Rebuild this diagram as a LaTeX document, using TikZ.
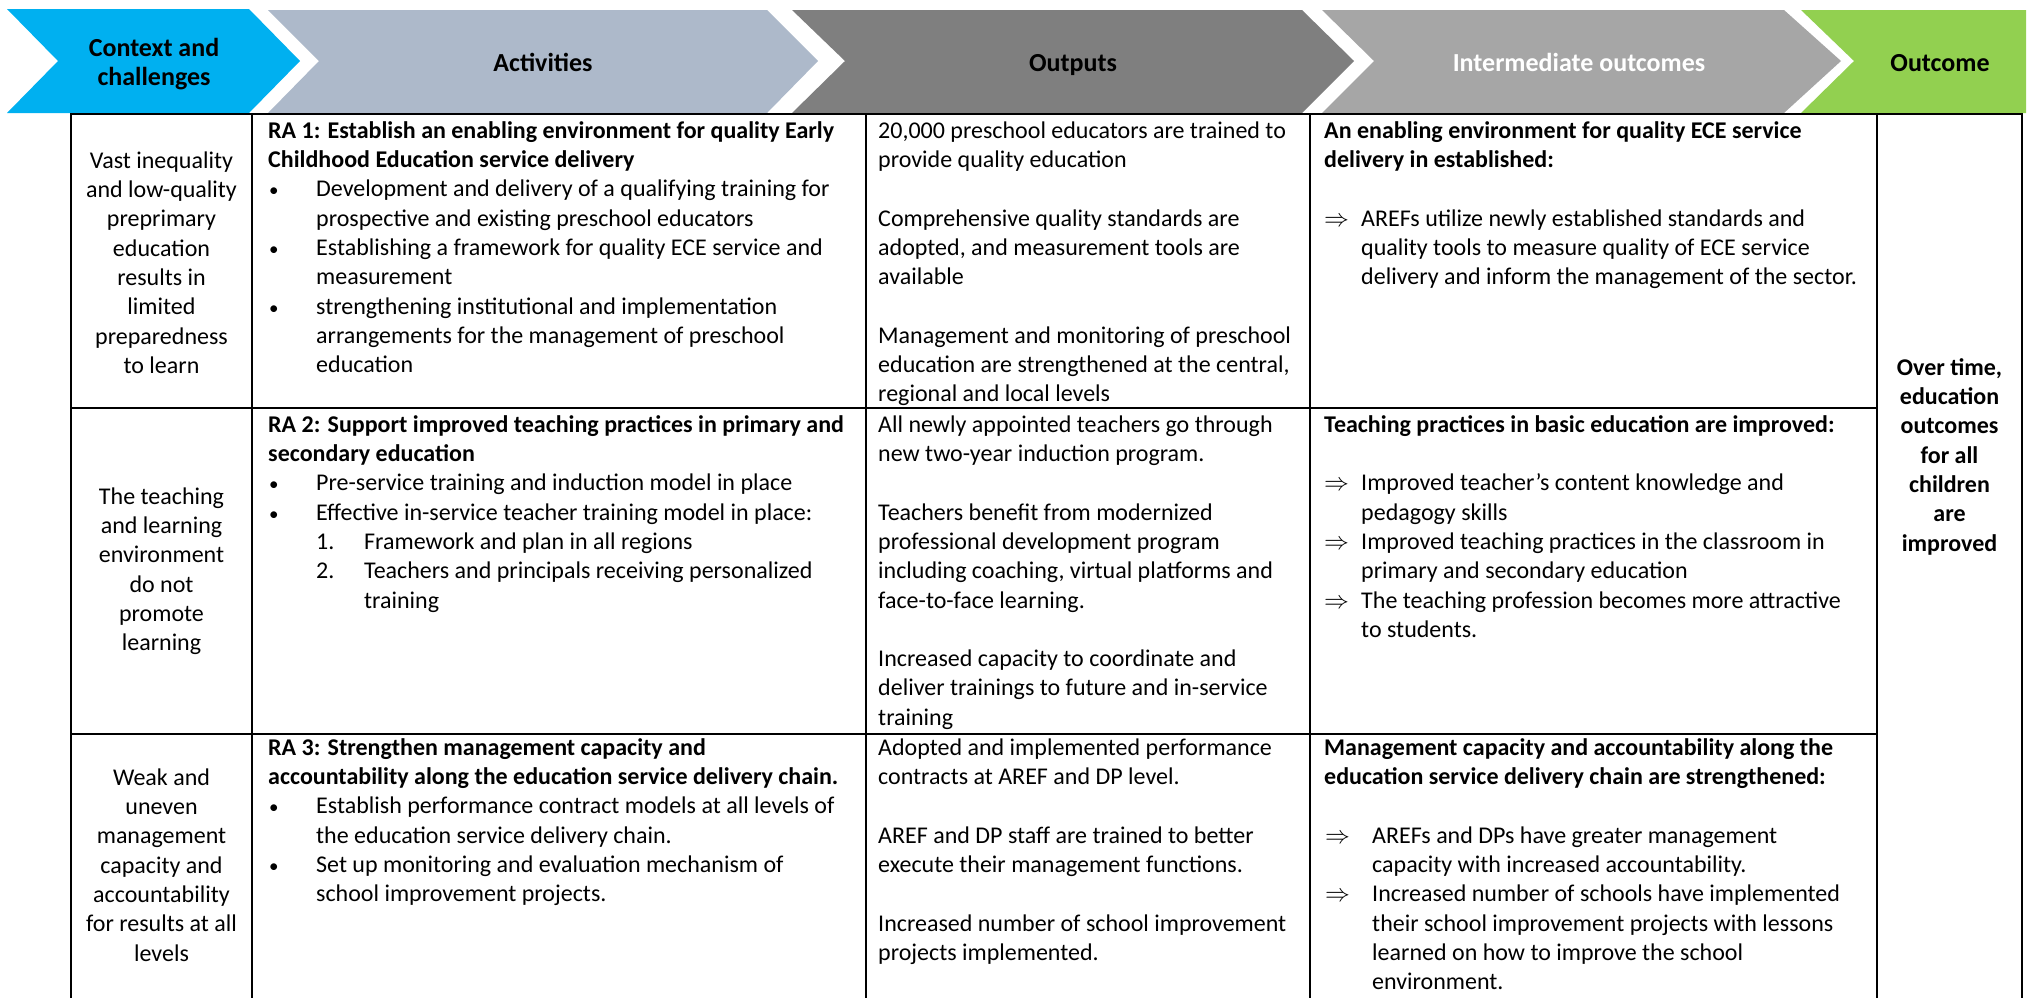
\documentclass[tikz,border=0pt]{standalone}
\usepackage{fontspec}
\setmainfont{Carlito}
\definecolor{cblue}{HTML}{00B0F0}
\definecolor{cact}{HTML}{ADB9CA}
\definecolor{cout}{HTML}{7F7F7F}
\definecolor{cint}{HTML}{A6A6A6}
\definecolor{cgreen}{HTML}{92D050}
\newcommand\bodyfont{\fontsize{24}{29.3}\selectfont}
\newcommand\headfont{\fontsize{26}{29}\selectfont\bfseries}
\newcommand\bulx{\makebox[48pt][l]{\hspace*{1pt}{\fontsize{19}{19}\selectfont •}}}
\newcommand\indx{\hspace*{48pt}}
\newcommand\arrx{\makebox[37pt][l]{$\Rightarrow$}}
\newcommand\indy{\hspace*{37pt}}
\newcommand\arrz{\makebox[48pt][l]{\hspace*{1pt}$\Rightarrow$}}
\newcommand\blankline{\\[29.3pt]}
\begin{document}
\begin{tikzpicture}[x=1pt,y=-1pt,
  hd/.style={font=\headfont, inner sep=0pt, anchor=base},
  txt/.style={font=\bodyfont, inner sep=0pt, anchor=north west, align=left},
  ctr/.style={font=\bodyfont, inner sep=0pt, anchor=north, align=center},
  vgrid/.style={line width=2pt, draw=black, line cap=rect},
  hgrid/.style={line width=2.8pt, draw=black, line cap=rect}]
\useasboundingbox (0,0) rectangle (2028,997);
% header chevrons
\fill[cblue]  (7,9) -- (249,9) -- (300,61) -- (249,113) -- (7,113) -- (58,61) -- cycle;
\fill[cact]   (268,10) -- (767,10) -- (818,61) -- (767,113) -- (268,113) -- (319,61) -- cycle;
\fill[cout]   (792,10) -- (1302,10) -- (1354,61) -- (1302,113) -- (792,113) -- (845,61) -- cycle;
\fill[cint]   (1322,10) -- (1784,10) -- (1841,61) -- (1784,113) -- (1322,113) -- (1374,61) -- cycle;
\fill[cgreen] (1801,10) -- (2026,10) -- (2026,113) -- (1801,113) -- (1854,61) -- cycle;
\node[font=\headfont, inner sep=0pt, anchor=north, align=center] (hctx) at (154,35.7) {\strut Context and\\challenges};
\node[hd] (hact) at (543,71) {Activities};
\node[hd] (hout) at (1073,71) {Outputs};
\node[hd, text=white] (hint) at (1579,71) {Intermediate outcomes};
\node[hd] (hres) at (1940,71) {Outcome};
% table
\foreach \xx in {71,252,866,1310,1877,2022} \draw[vgrid] (\xx,114) -- (\xx,997);
\draw[hgrid] (71,114) -- (2022,114);
\draw[hgrid] (71,408) -- (1877,408);
\draw[hgrid] (71,734) -- (1877,734);
% column 1
\node[ctr] (c1) at (161.5,147.5) {\strut Vast inequality\\and low-quality\\preprimary\\education\\results in\\limited\\preparedness\\to learn};
\node[ctr] (c2) at (161.5,483.5) {\strut The teaching\\and learning\\environment\\do not\\promote\\learning};
\node[ctr] (c3) at (161.5,764.5) {\strut Weak and\\uneven\\management\\capacity and\\accountability\\for results at all\\levels};
% column 2
\node[txt] (a1) at (268,117.5) {\textbf{\strut RA 1: Establish an enabling environment for quality Early}\\
\textbf{Childhood Education service delivery}\\
\bulx Development and delivery of a qualifying training for\\
\indx prospective and existing preschool educators\\
\bulx Establishing a framework for quality ECE service and\\
\indx measurement\\
\bulx strengthening institutional and implementation\\
\indx arrangements for the management of preschool\\
\indx education};
\node[txt] (a2) at (268,411.5) {\textbf{\strut RA 2: Support improved teaching practices in primary and}\\
\textbf{secondary education}\\
\bulx Pre-service training and induction model in place\\
\bulx Effective in-service teacher training model in place:\\
\indx\makebox[48pt][l]{1.}Framework and plan in all regions\\
\indx\makebox[48pt][l]{2.}Teachers and principals receiving personalized\\
\indx\indx training};
\node[txt] (a3) at (268,734.5) {\textbf{\strut RA 3: Strengthen management capacity and}\\
\textbf{accountability along the education service delivery chain.}\\
\bulx Establish performance contract models at all levels of\\
\indx the education service delivery chain.\\
\bulx Set up monitoring and evaluation mechanism of\\
\indx school improvement projects.};
% column 3
\node[txt] (o1) at (878,117.5) {\strut 20,000 preschool educators are trained to\\
provide quality education\blankline
Comprehensive quality standards are\\
adopted, and measurement tools are\\
available\blankline
Management and monitoring of preschool\\
education are strengthened at the central,\\
regional and local levels};
\node[txt] (o2) at (878,411.5) {\strut All newly appointed teachers go through\\
new two-year induction program.\blankline
Teachers benefit from modernized\\
professional development program\\
including coaching, virtual platforms and\\
face-to-face learning.\blankline
Increased capacity to coordinate and\\
deliver trainings to future and in-service\\
training};
\node[txt] (o3) at (878,734.5) {\strut Adopted and implemented performance\\
contracts at AREF and DP level.\blankline
AREF and DP staff are trained to better\\
execute their management functions.\blankline
Increased number of school improvement\\
projects implemented.};
% column 4
\node[txt] (i1) at (1324,117.5) {\textbf{\strut An enabling environment for quality ECE service}\\
\textbf{delivery in established:}\blankline
\arrx AREFs utilize newly established standards and\\
\indy quality tools to measure quality of ECE service\\
\indy delivery and inform the management of the sector.};
\node[txt] (i2) at (1324,411.5) {\textbf{\strut Teaching practices in basic education are improved:}\blankline
\arrx Improved teacher’s content knowledge and\\
\indy pedagogy skills\\
\arrx Improved teaching practices in the classroom in\\
\indy primary and secondary education\\
\arrx The teaching profession becomes more attractive\\
\indy to students.};
\node[txt] (i3) at (1324,734.5) {\textbf{\strut Management capacity and accountability along the}\\
\textbf{education service delivery chain are strengthened:}\blankline
\arrz AREFs and DPs have greater management\\
\indx capacity with increased accountability.\\
\arrz Increased number of schools have implemented\\
\indx their school improvement projects with lessons\\
\indx learned on how to improve the school\\
\indx environment.};
% column 5
\node[ctr] (r1) at (1949.5,354.5) {\strut\textbf{Over time,}\\\textbf{education}\\\textbf{outcomes}\\\textbf{for all}\\\textbf{children}\\\textbf{are}\\\textbf{improved}};
\end{tikzpicture}
\end{document}
